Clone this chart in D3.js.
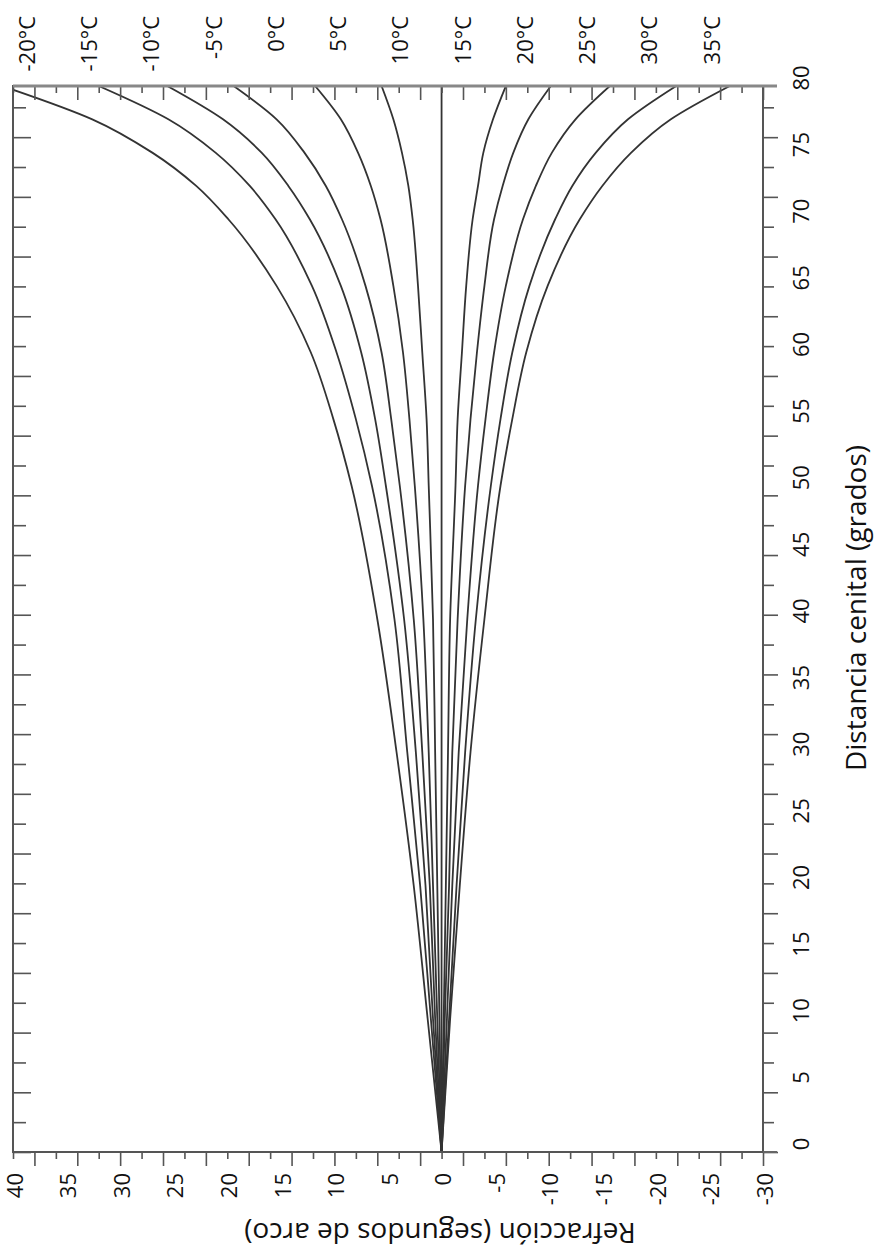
<!DOCTYPE html>
<html>
<head>
<meta charset="utf-8">
<script src="https://cdn.jsdelivr.net/npm/d3@7"></script>
<style>
  body { margin: 0; background: #fff; }
  text { font-family: "Open Sans", sans-serif; fill: #111; }
</style>
</head>
<body>
<div id="chart"></div>
<script>
// zenith distance (degrees) where each curve was read
var zenith = [0, 10, 20, 30, 40, 50, 55, 60, 65, 70, 72.5, 75, 77.5, 80];

// refraction (arc seconds) for each temperature curve
var refMinus20 = [0, 1.3, 2.6, 4.2, 6.0, 8.4, 10.1, 12.2, 15.4, 19.9, 22.9, 27.0, 32.6, 41.0];
var refMinus15 = [0, 1.0, 2.0, 3.2, 4.4, 6.5, 8.0, 9.8, 12.1, 15.5, 17.9, 21.1, 25.5, 32.0];
var refMinus10 = [0, 0.8, 1.5, 2.4, 3.5, 5.2, 6.2, 7.5, 9.4, 12.3, 14.3, 16.8, 20.4, 25.6];
var refMinus5 = [0, 0.6, 1.1, 1.8, 2.6, 3.9, 4.7, 5.6, 7.1, 9.3, 10.8, 12.8, 15.4, 19.4];
var ref0 = [0, 0.4, 0.8, 1.2, 1.7, 2.5, 3.0, 3.6, 4.5, 5.7, 6.6, 7.8, 9.4, 11.8];
var ref5 = [0, 0.2, 0.4, 0.6, 0.8, 1.2, 1.4, 1.8, 2.2, 2.7, 3.1, 3.7, 4.5, 5.6];
var ref10 = [0, 0, 0, 0, 0, 0, 0, 0, 0, 0, 0, 0, 0, 0];
var ref15 = [0, -0.2, -0.4, -0.6, -0.8, -1.3, -1.5, -1.9, -2.3, -2.9, -3.4, -3.9, -4.8, -6.0];
var ref20 = [0, -0.3, -0.7, -1.0, -1.5, -2.2, -2.7, -3.3, -4.0, -4.9, -5.7, -6.7, -8.1, -10.2];
var ref25 = [0, -0.5, -1.0, -1.6, -2.4, -3.4, -4.1, -4.9, -6.0, -7.6, -8.8, -10.3, -12.5, -15.7];
var ref30 = [0, -0.7, -1.4, -2.2, -3.2, -4.6, -5.5, -6.6, -8.2, -10.6, -12.2, -14.4, -17.4, -21.9];
var ref35 = [0, -0.8, -1.7, -2.7, -4.0, -5.5, -6.6, -7.9, -9.9, -12.9, -15.0, -17.7, -21.4, -26.9];

var tempLabels = ["-20°C", "-15°C", "-10°C", "-5°C", "0°C", "5°C", "10°C", "15°C", "20°C", "25°C", "30°C", "35°C"];
var refractionTicks = [40, 35, 30, 25, 20, 15, 10, 5, 0, -5, -10, -15, -20, -25, -30];
var zenithTicks = [0, 5, 10, 15, 20, 25, 30, 35, 40, 45, 50, 55, 60, 65, 70, 75, 80];
var zenithMinorStep = 2.24; // the side tick marks do not follow the labels in the original
var refractionMinorStep = 2;

var series = [refMinus20, refMinus15, refMinus10, refMinus5, ref0, ref5,
              ref10, ref15, ref20, ref25, ref30, ref35];

var width = 885, height = 1254;
var plotLeft = 13, plotRight = 763, plotTop = 86, plotBottom = 1152;

var svg = d3.select("#chart").append("svg")
    .attr("width", width)
    .attr("height", height);

// scales: refraction runs horizontally (40 on the left), zenith distance vertically
var x = d3.scaleLinear().domain([40, -30]).range([plotLeft, plotRight]);
var y = d3.scaleLinear().domain([0, 80]).range([plotBottom, plotTop]);

svg.append("clipPath").attr("id", "plotclip")
    .append("rect")
    .attr("x", plotLeft).attr("y", plotTop)
    .attr("width", plotRight - plotLeft).attr("height", plotBottom - plotTop);

// curves
var line = d3.line()
    .x(function (d) { return x(d[1]); })
    .y(function (d) { return y(d[0]); })
    .curve(d3.curveMonotoneY);

svg.append("g")
    .attr("clip-path", "url(#plotclip)")
    .selectAll("path").data(series).enter().append("path")
    .attr("d", function (vals) {
        return line(zenith.map(function (z, i) { return [z, vals[i]]; }));
    })
    .attr("fill", "none")
    .attr("stroke", "#333")
    .attr("stroke-width", 1.8);

// tick marks
var refMinor = d3.range(40, -30.5, -refractionMinorStep);
var zMinor = d3.range(0, 80, zenithMinorStep);
var isRefMajor = function (v) { return Math.abs((v - 2) % 4) < 0.01; };

var bottomAxis = svg.append("g")
    .attr("transform", "translate(0," + plotBottom + ")")
    .call(d3.axisBottom(x).tickValues(refMinor).tickSize(7).tickFormat(""));
bottomAxis.selectAll(".tick line").attr("y2", function (d) { return isRefMajor(d) ? 14 : 7; });

var topAxis = svg.append("g")
    .attr("transform", "translate(0," + plotTop + ")")
    .call(d3.axisTop(x).tickValues(refMinor).tickSize(-7).tickFormat(""));
topAxis.selectAll(".tick line").attr("y2", function (d) { return isRefMajor(d) ? 14 : 7; });

var leftAxis = svg.append("g")
    .attr("transform", "translate(" + plotLeft + ",0)")
    .call(d3.axisLeft(y).tickValues(zMinor).tickSize(-13).tickFormat(""));
leftAxis.selectAll(".tick line").attr("x2", function (d, i) { return i % 2 === 0 ? 18 : 13; });

var rightAxis = svg.append("g")
    .attr("transform", "translate(" + plotRight + ",0)")
    .call(d3.axisRight(y).tickValues(zMinor).tickSize(11).tickFormat(""));
rightAxis.selectAll(".tick line").attr("x2", function (d, i) { return i % 2 === 0 ? 15 : 11; });

svg.selectAll(".domain").remove();
svg.selectAll(".tick line").attr("stroke", "#555").attr("stroke-width", 1.6);

// frame
svg.append("rect")
    .attr("x", plotLeft).attr("y", plotTop)
    .attr("width", plotRight - plotLeft).attr("height", plotBottom - plotTop)
    .attr("fill", "none")
    .attr("stroke", "#555")
    .attr("stroke-width", 2);
svg.append("line")
    .attr("x1", plotLeft).attr("x2", plotRight + 14)
    .attr("y1", plotTop).attr("y2", plotTop)
    .attr("stroke", "#888").attr("stroke-width", 3);
svg.append("line")
    .attr("x1", plotRight).attr("x2", plotRight + 14)
    .attr("y1", plotBottom).attr("y2", plotBottom)
    .attr("stroke", "#666").attr("stroke-width", 2);

// refraction labels (bottom)
svg.append("g").selectAll("text").data(refractionTicks).enter().append("text")
    .attr("transform", function (d) { return "translate(" + (x(d) + 2) + "," + 1173 + ") rotate(-90)"; })
    .attr("text-anchor", "end")
    .attr("dy", "0.35em")
    .style("font-size", "22px")
    .text(String);

// zenith labels (right)
svg.append("g").selectAll("text").data(zenithTicks).enter().append("text")
    .attr("transform", function (d) { return "translate(801," + (y(d) - 8) + ") rotate(-90)"; })
    .attr("text-anchor", "middle")
    .attr("dy", "0.35em")
    .style("font-size", "22px")
    .text(String);

// temperature labels (top)
var tempPos = d3.scalePoint().domain(tempLabels).range([27, 712]);
svg.append("g").selectAll("text").data(tempLabels).enter().append("text")
    .attr("transform", function (d) { return "translate(" + tempPos(d) + ",16) rotate(-90)"; })
    .attr("text-anchor", "end")
    .attr("dy", "0.35em")
    .style("font-size", "22px")
    .text(String);

// axis titles
svg.append("text")
    .attr("transform", "translate(856,608) rotate(-90)")
    .attr("text-anchor", "middle")
    .attr("dy", "0.35em")
    .style("font-size", "28px")
    .text("Distancia cenital (grados)");

svg.append("text")
    .attr("transform", "translate(440,1233) rotate(180)")
    .attr("text-anchor", "middle")
    .attr("dy", "0.35em")
    .style("font-size", "28px")
    .text("Refracción (segundos de arco)");
</script>
</body>
</html>
